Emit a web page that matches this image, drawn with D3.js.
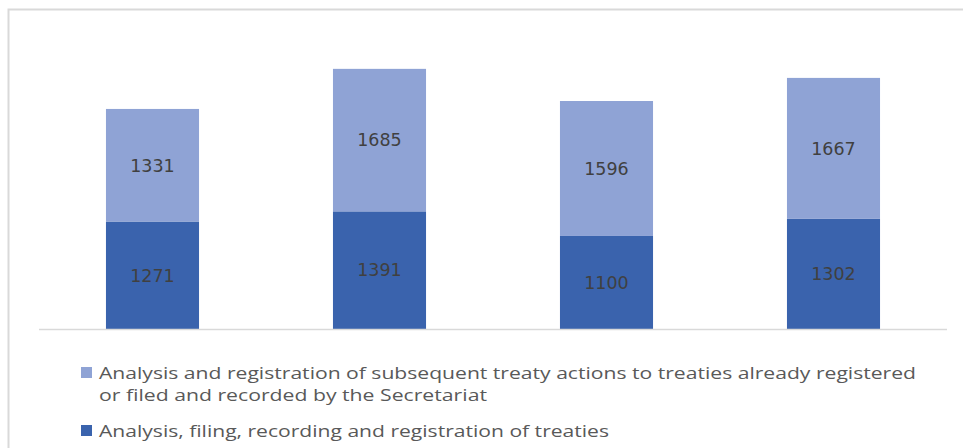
<!DOCTYPE html>
<html lang="en">
  <head>
    <meta charset="utf-8">
    <title>Treaty actions</title>
    <style>
      body { margin: 0; background: #fff; }
      svg { display: block; }
    </style>
  </head>
  <body>
    <div id="chart"></div>
    <script src="https://cdn.jsdelivr.net/npm/d3@7/dist/d3.min.js"></script>
    <script type="text/javascript">
    (function(d3) {
      'use strict';

      var categories = ['A', 'B', 'C', 'D'];
      var treaties = [1271, 1391, 1100, 1302];
      var actions = [1331, 1685, 1596, 1667];
      var seriesNames = [
        'Analysis, filing, recording and registration of treaties',
        'Analysis and registration of subsequent treaty actions to treaties already registered'
      ];
      var seriesLine2 = 'or filed and recorded by the Secretariat';

      var width = 963;
      var height = 448;

      var rows = categories.map(function(c, i) {
        return { cat: c, treaties: treaties[i], actions: actions[i] };
      });
      var stack = d3.stack().keys(['treaties', 'actions'])(rows);
      var colors = ['#3a63ad', '#8fa3d5'];

      var svg = d3.select('#chart')
        .append('svg')
        .attr('width', width)
        .attr('height', height);

      // outer frame (top and left edges visible)
      svg.append('path')
        .attr('d', 'M8.5,' + height + 'V9.5H' + width)
        .attr('fill', 'none')
        .attr('stroke', '#d9d9d9')
        .attr('stroke-width', 2);

      var x = d3.scaleBand()
        .domain(categories)
        .range([39, 947])
        .paddingInner(0.59)
        .paddingOuter(0.295);

      var y = d3.scaleLinear()
        .domain([0, 3500])
        .range([329, 33]);

      var layers = svg.selectAll('g.layer')
        .data(stack)
        .enter()
        .append('g')
        .attr('class', 'layer')
        .attr('fill', function(d, i) { return colors[i]; });

      layers.selectAll('rect')
        .data(function(d) { return d; })
        .enter()
        .append('rect')
        .attr('x', function(d) { return x(d.data.cat); })
        .attr('width', x.bandwidth())
        .attr('y', function(d) { return y(d[1]); })
        .attr('height', function(d) { return y(d[0]) - y(d[1]); });

      layers.selectAll('text')
        .data(function(d) { return d; })
        .enter()
        .append('text')
        .attr('x', function(d) { return x(d.data.cat) + x.bandwidth() / 2; })
        .attr('y', function(d) { return (y(d[0]) + y(d[1])) / 2; })
        .attr('dy', '0.36em')
        .attr('text-anchor', 'middle')
        .attr('fill', '#404040')
        .style('font-family', 'DejaVu Sans, sans-serif')
        .style('font-size', '17.5px')
        .text(function(d) { return d[1] - d[0]; });

      // baseline
      svg.append('line')
        .attr('x1', 39).attr('x2', 947)
        .attr('y1', y(0) + 0.5).attr('y2', y(0) + 0.5)
        .attr('stroke', '#d9d9d9')
        .attr('stroke-width', 1.5);

      // legend
      var legend = [
        { color: colors[1], lines: [seriesNames[1], seriesLine2], y: 379, w: [817, 388] },
        { color: colors[0], lines: [seriesNames[0]], y: 437, w: [510] }
      ];
      legend.forEach(function(l) {
        svg.append('rect')
          .attr('x', 81).attr('y', l.y - 12)
          .attr('width', 11).attr('height', 11)
          .attr('fill', l.color);
        l.lines.forEach(function(t, j) {
          svg.append('text')
            .attr('x', 99)
            .attr('y', l.y + j * 22)
            .attr('fill', '#595959')
            .attr('textLength', l.w[j])
            .attr('lengthAdjust', 'spacingAndGlyphs')
            .style('font-family', 'Open Sans, sans-serif')
            .style('font-size', '16.5px')
            .text(t);
        });
      });

    })(window.d3);
    </script>
  </body>
</html>
